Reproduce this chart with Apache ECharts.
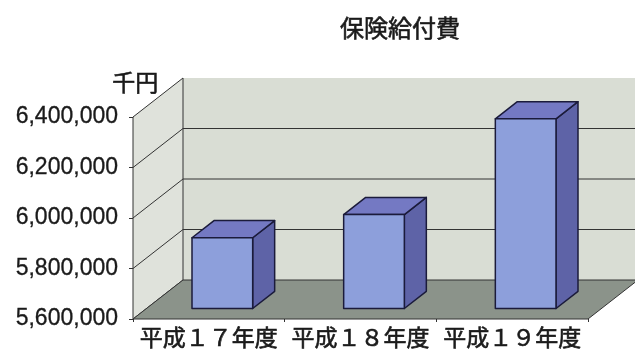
<!DOCTYPE html>
<html>
<head>
<meta charset="utf-8">
<script src="https://cdn.jsdelivr.net/npm/echarts@6/dist/echarts.min.js"></script>
<style>
  html, body { margin: 0; padding: 0; background: #ffffff; }
  #chart { width: 635px; height: 352px; }
</style>
</head>
<body>
<div id="chart"></div>
<script>
// 保険給付費（千円）
const categories = ['平成１７年度', '平成１８年度', '平成１９年度'];
const benefitCosts = [5880000, 5972000, 6351000];
const yTicks = [5600000, 5800000, 6000000, 6200000, 6400000];
const unitLabel = '千円';
const chartTitle = '保険給付費';

const yMin = yTicks[0];
const yMax = yTicks[yTicks.length - 1];
const yStep = yTicks[1] - yTicks[0];

// oblique depth of the 3D box (pixels), and where the bars sit inside it
const DX = 50, DY = -39;
const BAR_FRONT = 0.27, BAR_BACK = 0.71;
const BAR_RATIO = 0.40;

const LINE = '#333333';
const TEXT = '#1a1a1a';
const WALL_BACK = '#d9ddd4';
const WALL_LEFT = '#dfe2db';
const FLOOR = '#8b938a';
const BAR_FRONT_C = '#8d9fdb';
const BAR_TOP_C = '#7479c3';
const BAR_SIDE_C = '#5e63a7';
const BAR_EDGE = '#1b1b3b';

// a hairline outline in the text colour gives the CJK text a slightly heavier weight
const CJK_WEIGHT = { textBorderColor: TEXT, textBorderWidth: 0.6 };

function shift(p, t) { return [p[0] + DX * t, p[1] + DY * t]; }

function renderBox(params, api) {
  const cs = params.coordSys;
  const x0 = cs.x, x1 = cs.x + cs.width;
  const yb = api.coord([0, yMin])[1];
  const yt = api.coord([0, yMax])[1];
  const children = [];
  // back wall
  children.push({
    type: 'polygon',
    shape: { points: [shift([x0, yt], 1), shift([x1, yt], 1), shift([x1, yb], 1), shift([x0, yb], 1)] },
    style: { fill: WALL_BACK, stroke: null }
  });
  // left wall
  children.push({
    type: 'polygon',
    shape: { points: [[x0, yt], shift([x0, yt], 1), shift([x0, yb], 1), [x0, yb]] },
    style: { fill: WALL_LEFT, stroke: LINE, lineWidth: 1 }
  });
  // floor
  children.push({
    type: 'polygon',
    shape: { points: [[x0, yb], [x1, yb], shift([x1, yb], 1), shift([x0, yb], 1)] },
    style: { fill: FLOOR, stroke: LINE, lineWidth: 1 }
  });
  // grid lines across the left and back walls
  yTicks.slice(1, -1).forEach(function (v) {
    const y = api.coord([0, v])[1];
    children.push({
      type: 'polyline',
      shape: { points: [[x0, y], shift([x0, y], 1), shift([x1, y], 1)] },
      style: { stroke: LINE, lineWidth: 1, fill: null }
    });
  });
  return { type: 'group', children: children };
}

function renderBar(params, api) {
  const i = api.value(0), v = api.value(1);
  const base = api.coord([i, yMin]);
  const top = api.coord([i, v]);
  const hw = api.size([1, 0])[0] * BAR_RATIO / 2;
  const xl = base[0] - hw, xr = base[0] + hw;
  const yb = base[1], yt = top[1];
  const fl = shift([xl, yt], BAR_FRONT), fr = shift([xr, yt], BAR_FRONT);
  const bl = shift([xl, yt], BAR_BACK), br = shift([xr, yt], BAR_BACK);
  const flb = shift([xl, yb], BAR_FRONT), frb = shift([xr, yb], BAR_FRONT);
  const brb = shift([xr, yb], BAR_BACK);
  const edge = { stroke: BAR_EDGE, lineWidth: 1.5, lineJoin: 'round' };
  return {
    type: 'group',
    children: [
      { type: 'polygon', shape: { points: [fr, br, brb, frb] },
        style: Object.assign({ fill: BAR_SIDE_C }, edge) },
      { type: 'polygon', shape: { points: [fl, fr, br, bl] },
        style: Object.assign({ fill: BAR_TOP_C }, edge) },
      { type: 'polygon', shape: { points: [fl, fr, frb, flb] },
        style: Object.assign({ fill: BAR_FRONT_C }, edge) }
    ]
  };
}

const chart = echarts.init(document.getElementById('chart'), null, { renderer: 'canvas' });
chart.setOption({
  backgroundColor: '#ffffff',
  animation: false,
  title: {
    text: chartTitle,
    left: 335,
    top: 11,
    textStyle: Object.assign({ fontFamily: 'Noto Sans CJK JP', fontSize: 24, fontWeight: 'normal', color: TEXT }, CJK_WEIGHT)
  },
  graphic: [{
    type: 'text',
    left: 112,
    top: 70,
    style: { text: unitLabel, font: '23px "Noto Sans CJK JP"', fill: TEXT, stroke: TEXT, lineWidth: 0.6 }
  }],
  grid: { left: 133, right: 47, top: 117, bottom: 33 },
  xAxis: {
    type: 'category',
    data: categories,
    axisLine: { show: false },
    axisTick: { show: true, length: 3, lineStyle: { color: LINE } },
    splitLine: { show: false },
    axisLabel: Object.assign({
      interval: 0,
      hideOverlap: false,
      margin: 7,
      fontFamily: 'Noto Sans CJK JP',
      fontSize: 23,
      color: TEXT
    }, CJK_WEIGHT)
  },
  yAxis: {
    type: 'value',
    min: yMin,
    max: yMax,
    interval: yStep,
    axisLine: { show: true, lineStyle: { color: LINE, width: 1 } },
    axisTick: { show: true, length: 4, lineStyle: { color: LINE } },
    splitLine: { show: false },
    axisLabel: {
      margin: 15,
      fontFamily: 'Liberation Sans',
      fontSize: 23,
      color: TEXT,
      textBorderColor: TEXT,
      textBorderWidth: 0.3,
      formatter: function (v) { return v.toLocaleString('en-US'); }
    }
  },
  series: [
    {
      type: 'custom',
      renderItem: renderBox,
      data: [[0, yMin]],
      clip: false,
      silent: true,
      z: 1
    },
    {
      type: 'custom',
      renderItem: renderBar,
      data: benefitCosts.map(function (v, i) { return [i, v]; }),
      encode: { x: 0, y: 1 },
      clip: false,
      z: 2
    }
  ]
});
</script>
</body>
</html>
